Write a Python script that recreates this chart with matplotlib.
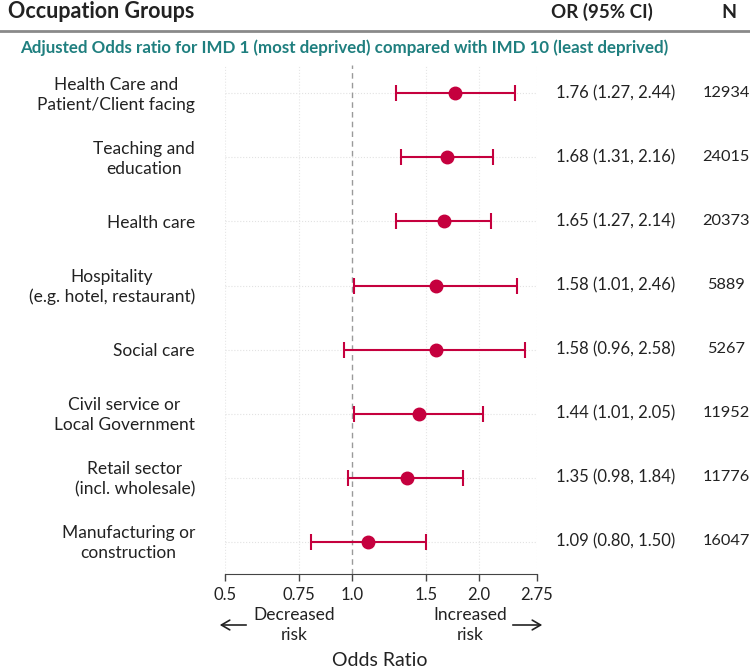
import matplotlib
matplotlib.use("Agg")
import matplotlib.pyplot as plt
import numpy as np

W, H = 750, 672

groups = [
    "Health Care and\nPatient/Client facing",
    "Teaching and\neducation",
    "Health care",
    "Hospitality\n(e.g. hotel, restaurant)",
    "Social care",
    "Civil service or\nLocal Government",
    "Retail sector\n(incl. wholesale)",
    "Manufacturing or\nconstruction",
]
odds = [1.76, 1.68, 1.65, 1.58, 1.58, 1.44, 1.35, 1.09]
ci_low = [1.27, 1.31, 1.27, 1.01, 0.96, 1.01, 0.98, 0.80]
ci_high = [2.44, 2.16, 2.14, 2.46, 2.58, 2.05, 1.84, 1.50]
n_obs = [12934, 24015, 20373, 5889, 5267, 11952, 11776, 16047]
xticks = [0.5, 0.75, 1.0, 1.5, 2.0, 2.75]
xtick_labels = ["0.5", "0.75", "1.0", "1.5", "2.0", "2.75"]

RED = "#c5003e"
TEAL = "#1f7f7f"
TXT = "#222222"

plt.rcParams["font.family"] = ["Lato", "DejaVu Sans"]


def fx(x):
    return x / W


def fy(y):
    return 1 - y / H


fig = plt.figure(figsize=(W / 100, H / 100), dpi=100)
ax = fig.add_axes([fx(225), fy(574), fx(537) - fx(225), fy(65) - fy(574)])

ypos = np.arange(len(groups))
odds_a = np.array(odds)
err = [odds_a - np.array(ci_low), np.array(ci_high) - odds_a]

ax.set_xscale("log")
ax.set_xlim(0.5, 2.75)
ax.set_ylim(7.5, -0.44)

for y in ypos:
    ax.axhline(y, color="#e2e2e2", lw=0.8, ls=":", zorder=0)
for t in xticks:
    if t != 1.0:
        ax.axvline(t, color="#e6e6e6", lw=0.8, ls=":", zorder=0)
ax.axvline(1.0, color="#9a9a9a", lw=1.0, ls=(0, (4, 3)), zorder=1)

ax.errorbar(odds, ypos, xerr=err, fmt="o", color=RED, ms=9,
            elinewidth=1.5, capsize=5.5, capthick=1.5, zorder=3)

ax.set_xticks(xticks)
ax.set_xticklabels(xtick_labels, fontsize=12, color=TXT)
ax.xaxis.set_minor_locator(matplotlib.ticker.NullLocator())
ax.tick_params(axis="x", length=5, width=1, color="#444444", pad=4)
ax.set_yticks([])
for s in ["top", "right", "left"]:
    ax.spines[s].set_visible(False)
ax.spines["bottom"].set_color("#444444")

# header
fig.text(fx(8), fy(12), "Occupation Groups", fontsize=15.5, fontweight="bold",
         color=TXT, va="center", ha="left")
fig.text(fx(602), fy(12), "OR (95% CI)", fontsize=13.5, fontweight="bold",
         color=TXT, va="center", ha="center")
fig.text(fx(729), fy(12), "N", fontsize=14, fontweight="bold",
         color=TXT, va="center", ha="center")
fig.add_artist(plt.Line2D([0, 1], [fy(31), fy(31)], color="#8a8a8a", lw=2))
fig.text(fx(20), fy(48), "Adjusted Odds ratio for IMD 1 (most deprived) compared with IMD 10 (least deprived)",
         fontsize=12.2, fontweight="bold", color=TEAL, va="center", ha="left")

# rows
for i in range(len(groups)):
    yp = 93 + 64 * i
    fig.text(fx(195), fy(yp + 2), groups[i], fontsize=12.5, color=TXT,
             ha="right", va="center", multialignment="center", linespacing=1.3)
    fig.text(fx(616), fy(yp), f"{odds[i]:.2f} ({ci_low[i]:.2f}, {ci_high[i]:.2f})",
             fontsize=12, color=TXT, ha="center", va="center")
    fig.text(fx(726), fy(yp), str(n_obs[i]), fontsize=11.8, color=TXT,
             ha="center", va="center")

# risk labels
fig.text(fx(294), fy(625), "Decreased\nrisk", fontsize=12.5, color=TXT,
         ha="center", va="center", linespacing=1.25)
fig.text(fx(470), fy(625), "Increased\nrisk", fontsize=12.5, color=TXT,
         ha="center", va="center", linespacing=1.25)
fig.add_artist(matplotlib.patches.FancyArrowPatch(
    (fx(249), fy(625)), (fx(217), fy(625)), transform=fig.transFigure,
    arrowstyle="->,head_length=6,head_width=3.5", color=TXT, lw=1.2))
fig.add_artist(matplotlib.patches.FancyArrowPatch(
    (fx(510), fy(625)), (fx(545), fy(625)), transform=fig.transFigure,
    arrowstyle="->,head_length=6,head_width=3.5", color=TXT, lw=1.2))
fig.text(fx(380), fy(660), "Odds Ratio", fontsize=14, color=TXT,
         ha="center", va="center")

fig.savefig("out.png", dpi=100)
